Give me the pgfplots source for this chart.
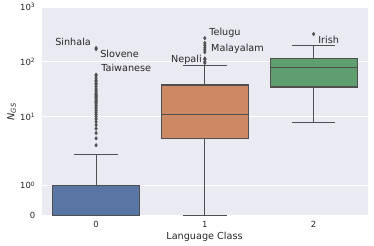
\documentclass[border=0pt]{standalone}
\usepackage{pgfplots}
\pgfplotsset{compat=1.18}
\usepackage{fontspec}
\setmainfont{DejaVu Sans}
\definecolor{bg}{HTML}{EAEAF2}
\definecolor{edge}{HTML}{4F4F4F}
\definecolor{txt}{HTML}{262626}
\definecolor{cblue}{HTML}{5875A4}
\definecolor{corange}{HTML}{CC8963}
\definecolor{cgreen}{HTML}{5F9E6E}
\begin{document}
\begin{tikzpicture}
\path[use as bounding box] (-41.7bp,-30.3bp) rectangle (332.3bp,215.7bp);
\begin{axis}[
  at={(0,0)}, anchor=south west,
  width=326.3bp, height=208.7bp, scale only axis,
  xmin=-0.5, xmax=2.5, ymin=0, ymax=1000,
  y coord trafo/.code={\pgfmathparse{(#1<=2)*#1*1.1111+(#1>2)*2*(1.1111+log10(max(#1,2)/2))}},
  axis background/.style={fill=bg},
  axis line style={draw=none},
  major tick length=0pt, minor tick length=0pt,
  ymajorgrids, grid style={white, line width=0.9bp},
  xtick={0,1,2}, xticklabels={0,1,2},
  ytick={0,1,10,100,1000},
  yticklabels={0,10\textsuperscript{0},10\textsuperscript{1},10\textsuperscript{2},10\textsuperscript{3}},
  ticklabel style={font=\fontsize{8.5}{10}\selectfont, text=txt},
  xticklabel style={yshift=-2bp},
  yticklabel style={xshift=-3bp},
  xlabel={Language Class},
  xlabel style={font=\fontsize{9.7}{11}\selectfont, text=txt, at={(axis description cs:0.499,-0.1006)}, anchor=center},
  ylabel={\textit{N}\textsubscript{\textit{GS}}},
  ylabel style={font=\fontsize{9.7}{11}\selectfont, text=txt, at={(axis description cs:-0.092,0.498)}, anchor=center, rotate=0},
  clip=false,
]
% whiskers
\addplot[edge, line width=1.1bp] coordinates {(0,1) (0,2)};
\addplot[edge, line width=1.1bp] coordinates {(-0.2,2) (0.2,2)};
\addplot[edge, line width=1.1bp] coordinates {(-0.2,0) (0.2,0)};
\addplot[edge, line width=1.1bp] coordinates {(1,0) (1,4)};
\addplot[edge, line width=1.1bp] coordinates {(1,37.6) (1,86)};
\addplot[edge, line width=1.1bp] coordinates {(0.8,86) (1.2,86)};
\addplot[edge, line width=1.1bp] coordinates {(0.8,0) (1.2,0)};
\addplot[edge, line width=1.1bp] coordinates {(2,7.8) (2,34.6)};
\addplot[edge, line width=1.1bp] coordinates {(2,115) (2,199)};
\addplot[edge, line width=1.1bp] coordinates {(1.8,199) (2.2,199)};
\addplot[edge, line width=1.1bp] coordinates {(1.8,7.8) (2.2,7.8)};
% boxes
\addplot[fill=cblue, draw=edge, line width=1.1bp] coordinates {(-0.4,0) (0.4,0) (0.4,1) (-0.4,1)} -- cycle;
\addplot[edge, line width=1.1bp] coordinates {(-0.4,0) (0.4,0)};
\addplot[fill=corange, draw=edge, line width=1.1bp] coordinates {(0.6,4) (1.4,4) (1.4,37.6) (0.6,37.6)} -- cycle;
\addplot[edge, line width=1.1bp] coordinates {(0.6,10.8) (1.4,10.8)};
\addplot[fill=cgreen, draw=edge, line width=1.1bp] coordinates {(1.6,34.6) (2.4,34.6) (2.4,115) (1.6,115)} -- cycle;
\addplot[edge, line width=1.1bp] coordinates {(1.6,79) (2.4,79)};
% outliers
\addplot[only marks, mark=diamond*, mark size=1.8, edge] coordinates {
(0,3) (0,4) (0,5) (0,6) (0,7) (0,8) (0,9) (0,10) (0,11) (0,12) (0,13) (0,14) (0,15)
(0,16) (0,17) (0,18) (0,19) (0,20) (0,21) (0,22) (0,23) (0,24) (0,25) (0,26) (0,28)
(0,30) (0,32) (0,35) (0,38) (0,40) (0,43) (0,46) (0,50) (0,55) (0,58) (0,170) (0,178)
(1,95) (1,100) (1,110) (1,115) (1,150) (1,165) (1,180) (1,200) (1,220) (1,270)
(2,320)};
% annotations
\begin{scope}[every node/.style={font=\fontsize{9.7}{11}\selectfont, inner sep=0pt, anchor=west, text=txt}]
\node at (rel axis cs:0.041,0.832) {Sinhala};
\node at (rel axis cs:0.179,0.775) {Slovene};
\node at (rel axis cs:0.182,0.708) {Taiwanese};
\node at (rel axis cs:0.396,0.746) {Nepali};
\node at (rel axis cs:0.513,0.875) {Telugu};
\node at (rel axis cs:0.519,0.799) {Malayalam};
\node at (rel axis cs:0.847,0.842) {Irish};
\end{scope}
\end{axis}
\end{tikzpicture}
\end{document}
